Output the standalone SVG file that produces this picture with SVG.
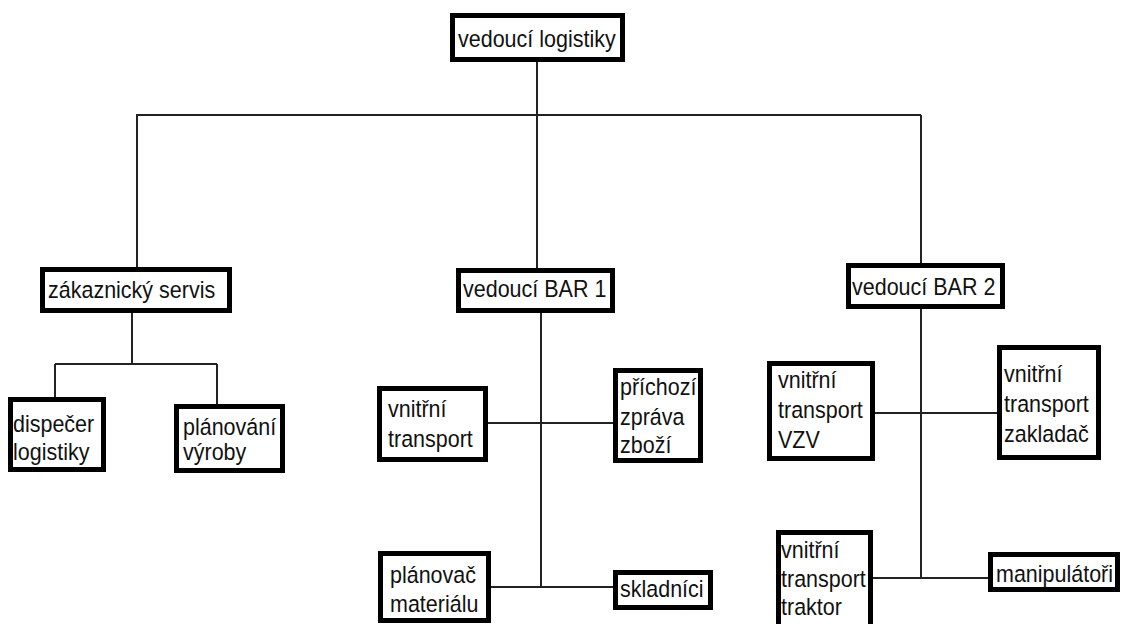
<svg xmlns="http://www.w3.org/2000/svg" width="1122" height="624" viewBox="0 0 1122 624">
<style>
.box{fill:#fff;stroke:#000;stroke-width:5}
.t{font-family:"Liberation Sans",Arial,sans-serif;font-size:21.5px;fill:#111}
.c{fill:none;stroke:#222;stroke-width:2}
</style>
<rect width="1122" height="624" fill="#fff"/>
<g id="connectors">
<path class="c" d="M537 62V115M137 115H921M137 114V267M537 115V268M921 115V263"/>
<path class="c" d="M132 313V364M55 364H217M55 364V397M217 364V404"/>
<path class="c" d="M541 313V587M488 423H613M491 587H613"/>
<path class="c" d="M921 309V578M875 413H997M873 578H988"/>
</g>
<g id="n-vedouci-logistiky"><rect class="box" x="452.5" y="15.5" width="170" height="44"/><text class="t" transform="translate(458 47) scale(1 1.12)">vedoucí logistiky</text></g>
<g id="n-zakaznicky-servis"><rect class="box" x="42.5" y="269.5" width="187" height="41"/><text class="t" transform="translate(48 298) scale(1 1.12)">zákaznický servis</text></g>
<g id="n-dispecer"><rect class="box" x="10.5" y="399.5" width="93" height="70"/><text class="t" transform="translate(13 432) scale(1 1.12)">dispečer</text><text class="t" transform="translate(13 460) scale(1 1.12)">logistiky</text></g>
<g id="n-planovani"><rect class="box" x="176.5" y="406.5" width="106" height="64"/><text class="t" transform="translate(183 435) scale(1 1.12)">plánování</text><text class="t" transform="translate(183 460) scale(1 1.12)">výroby</text></g>
<g id="n-bar1"><rect class="box" x="458.5" y="270.5" width="154" height="40"/><text class="t" transform="translate(463 297) scale(1 1.12)">vedoucí BAR 1</text></g>
<g id="n-vnitrni-transport"><rect class="box" x="379.5" y="388.5" width="106" height="71"/><text class="t" transform="translate(388 417) scale(1 1.12)">vnitřní</text><text class="t" transform="translate(388 447) scale(1 1.12)">transport</text></g>
<g id="n-prichozi"><rect class="box" x="615.5" y="370.5" width="85" height="90"/><text class="t" transform="translate(620 395) scale(1 1.12)">příchozí</text><text class="t" transform="translate(620 425) scale(1 1.12)">zpráva</text><text class="t" transform="translate(620 453) scale(1 1.12)">zboží</text></g>
<g id="n-planovac"><rect class="box" x="380.5" y="553.5" width="108" height="67"/><text class="t" transform="translate(390 583) scale(1 1.12)">plánovač</text><text class="t" transform="translate(390 612) scale(1 1.12)">materiálu</text></g>
<g id="n-skladnici"><rect class="box" x="615.5" y="572.5" width="95" height="35"/><text class="t" transform="translate(620 597) scale(1 1.12)">skladníci</text></g>
<g id="n-bar2"><rect class="box" x="848.5" y="265.5" width="154" height="41"/><text class="t" transform="translate(852 295) scale(1 1.12)">vedoucí BAR 2</text></g>
<g id="n-vzv"><rect class="box" x="769.5" y="363.5" width="103" height="95"/><text class="t" transform="translate(778 388) scale(1 1.12)">vnitřní</text><text class="t" transform="translate(778 418) scale(1 1.12)">transport</text><text class="t" transform="translate(778 448) scale(1 1.12)">VZV</text></g>
<g id="n-zakladac"><rect class="box" x="999.5" y="347.5" width="99" height="110"/><text class="t" transform="translate(1004 382) scale(1 1.12)">vnitřní</text><text class="t" transform="translate(1004 412) scale(1 1.12)">transport</text><text class="t" transform="translate(1004 442) scale(1 1.12)">zakladač</text></g>
<g id="n-traktor"><rect class="box" x="778.5" y="532.5" width="92" height="100"/><text class="t" transform="translate(781 558) scale(1 1.12)">vnitřní</text><text class="t" transform="translate(781 587) scale(1 1.12)">transport</text><text class="t" transform="translate(781 615) scale(1 1.12)">traktor</text></g>
<g id="n-manipulatori"><rect class="box" x="990.5" y="554.5" width="127" height="35"/><text class="t" transform="translate(996 582) scale(1 1.12)">manipulátoři</text></g>
</svg>
